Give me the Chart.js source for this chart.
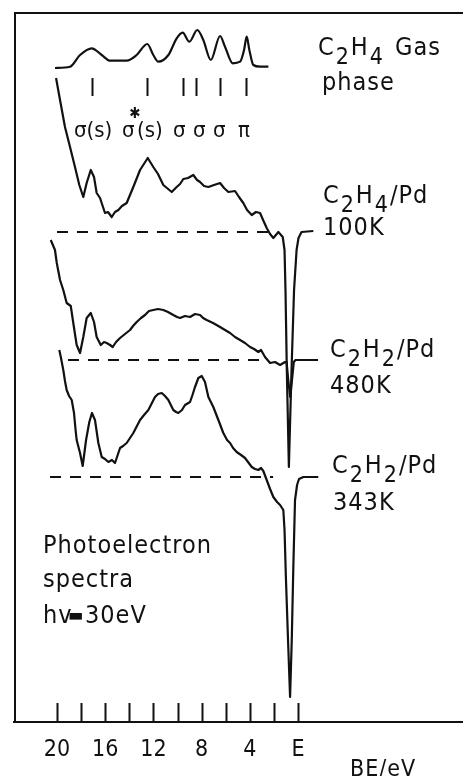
<!DOCTYPE html>
<html>
<head>
<meta charset="utf-8">
<script src="https://cdn.jsdelivr.net/npm/chart.js@4"></script>
<style>
  html, body { margin: 0; padding: 0; background: #fff; }
</style>
</head>
<body>
<canvas id="pes" width="463" height="776"></canvas>
<script>
// binding energy (eV) axis, E = Fermi level
const beTicks = [0, 2, 4, 6, 8, 10, 12, 14, 16, 18, 20];
const beLabels = { 20: '20', 16: '16', 12: '12', 8: '8', 4: '4', 0: 'E' };

// C2H4 gas phase spectrum
const gasBE = [20.17, 18.92, 18.09, 17.12, 16.29, 15.6, 14.22, 13.39, 12.51, 12.01, 11.59, 10.76, 10.07, 9.57,
  9.02, 8.36, 7.86, 7.24, 6.47, 6.06, 5.42, 4.81, 4.48, 4.26, 4.04, 3.71, 3.15, 2.46];
const gasInt = [0.0, 0.13, 1.3, 1.97, 1.3, 0.73, 0.73, 1.3, 2.4, 1.3, 0.63, 1.3, 2.97, 3.53,
  2.63, 3.8, 2.8, 0.8, 3.2, 2.13, 0.47, 0.63, 1.8, 3.13, 1.8, 0.3, 0.13, 0.13];
const gasOrbitals = [17.12, 12.56, 9.57, 8.46, 6.47, 4.34];
const gasOrbitalNames = ['σ(s)', 'σ', 'σ', 'σ', 'σ', 'π'];

// C2H4/Pd 100K
const k100BE = [20.08, 19.75, 19.34, 18.92, 18.51, 18.15, 17.82, 17.54, 17.2, 16.93,
  16.71, 16.43, 16.02, 15.77, 15.46, 15.19, 14.91, 14.61, 14.22, 13.67,
  13.11, 12.47, 12.01, 11.62, 11.18, 10.48, 10.07, 9.79, 9.52, 9.13,
  8.69, 8.38, 8.13, 7.8, 7.44, 6.97, 6.47, 6.14, 5.78, 5.23,
  4.9, 4.54, 4.23, 3.84, 3.49, 3.15, 2.9, 2.6, 2.32, 2.05,
  1.63, 1.27, 1.12, 1.04, 0.93, 0.76, 0.54, 0.33, 0.12, -0.04,
  -0.29, -1.27];
const k100Int = [15.4, 13.2, 10.5, 8.5, 6.5, 4.7, 3.5, 4.9, 6.2, 5.5,
  3.9, 3.4, 1.9, 2.0, 1.5, 2.0, 2.2, 2.6, 2.9, 4.5,
  6.2, 7.4, 6.5, 5.8, 4.7, 4.0, 4.5, 4.8, 5.3, 5.4,
  5.7, 5.2, 5.0, 4.6, 4.5, 4.7, 4.9, 4.4, 4.0, 4.1,
  3.5, 2.9, 2.2, 1.7, 2.0, 1.9, 1.2, 0.4, -0.2, -0.6,
  0.0, -0.5, -1.8, -5.8, -13.8, -23.5, -13.8, -5.8, -1.8, -0.6,
  0.0, 0.1];

// C2H2/Pd 480K
const k480BE = [20.52, 20.17, 20.02, 19.75, 19.48, 19.2, 18.86, 18.65, 18.37, 18.09,
  17.82, 17.54, 17.2, 16.93, 16.71, 16.37, 16.1, 15.88, 15.6, 15.38,
  15.1, 14.77, 14.36, 13.94, 13.69, 13.39, 13.03, 12.7, 12.37, 12.01,
  11.62, 11.18, 10.79, 10.35, 10.04, 9.79, 9.38, 8.96, 8.55, 8.13,
  7.88, 7.58, 7.05, 6.47, 6.06, 5.64, 5.23, 4.81, 4.4, 3.98,
  3.65, 3.29, 3.07, 2.74, 2.32, 1.91, 1.49, 1.08, 0.95, 0.81,
  0.65, 0.5, 0.35, 0.21, -1.66];
const k480Int = [12.0, 11.0, 9.7, 8.0, 7.0, 5.7, 5.4, 3.7, 1.5, 0.7,
  2.3, 4.2, 4.7, 3.8, 2.3, 1.5, 1.8, 1.7, 1.5, 1.3,
  1.8, 2.2, 2.6, 3.0, 3.4, 3.8, 4.2, 4.5, 4.9, 5.0,
  5.1, 5.0, 4.8, 4.5, 4.3, 4.2, 4.4, 4.3, 4.6, 4.5,
  4.2, 4.0, 3.7, 3.3, 3.0, 2.7, 2.3, 2.0, 1.7, 1.3,
  1.1, 0.8, 1.0, 0.3, -0.3, -0.2, -0.5, -0.2, -0.2, -2.0,
  -3.7, -2.0, -0.2, 0.0, 0.0];

// C2H2/Pd 343K
const k343BE = [19.81, 19.67, 19.48, 19.34, 19.2, 19.0, 18.78, 18.59, 18.46, 18.37,
  18.09, 17.87, 17.59, 17.32, 17.1, 16.85, 16.57, 16.29, 16.02, 15.74,
  15.44, 15.19, 14.77, 14.52, 14.22, 13.67, 13.11, 12.78, 12.42, 11.87,
  11.62, 11.31, 11.04, 10.76, 10.35, 10.12, 9.93, 9.63, 9.38, 8.96,
  8.76, 8.55, 8.27, 7.99, 7.72, 7.44, 7.03, 6.61, 6.2, 5.89,
  5.64, 5.39, 5.09, 4.73, 4.4, 4.15, 3.84, 3.57, 3.29, 3.07,
  2.88, 2.6, 2.32, 2.05, 1.74, 1.49, 1.22, 1.12, 1.0, 0.83,
  0.66, 0.52, 0.39, 0.25, 0.08, -0.08, -0.44, -1.68];
const k343Int = [12.7, 11.9, 10.7, 9.6, 8.7, 8.1, 7.7, 6.4, 4.7, 3.7,
  2.4, 1.1, 3.7, 5.5, 6.4, 5.7, 3.4, 2.0, 1.8, 1.5,
  1.7, 1.4, 2.9, 3.1, 3.4, 4.4, 5.7, 6.2, 6.7, 8.0,
  8.3, 8.4, 8.1, 7.7, 6.7, 6.5, 6.4, 6.7, 7.2, 7.5,
  8.2, 9.0, 9.9, 10.1, 9.5, 8.0, 7.0, 5.7, 4.4, 3.7,
  3.4, 2.9, 2.5, 2.2, 1.9, 1.5, 1.0, 0.8, 0.7, 0.9,
  0.6, -0.3, -1.2, -2.0, -2.5, -2.8, -3.3, -5.3, -10.3, -16.3,
  -22.0, -16.3, -9.0, -2.3, -0.8, -0.2, 0.0, 0.0];

// zero-intensity (dashed) baselines: start / end BE
const baseStart = [20.0, 19.09, 20.58];
const baseEnd = [1.74, 2.57, 2.07];

// vertical stacking of the spectra
const gasOffset = 65.4, k100Offset = 49.0, k480Offset = 36.2, k343Offset = 24.5;

const FONT = "'DejaVu Sans Condensed', 'DejaVu Sans', sans-serif";
const INK = '#111';

function series(be, ints, off) {
  return be.map((v, i) => ({ x: v, y: ints[i] + off }));
}
function spectrum(be, ints, off, smooth) {
  return {
    data: series(be, ints, off),
    borderColor: INK, borderWidth: 2.2, pointRadius: 0, showLine: true,
    tension: 0, cubicInterpolationMode: smooth ? 'monotone' : 'default',
    borderJoinStyle: 'round'
  };
}
function baseline(i, off) {
  return {
    data: [{ x: baseStart[i], y: off }, { x: baseEnd[i], y: off }],
    borderColor: INK, borderWidth: 2, borderDash: [11, 9], pointRadius: 0, showLine: true
  };
}

function drawChem(ctx, parts, x, y) {
  parts.forEach(p => {
    const sub = typeof p !== 'string';
    const t = sub ? p[0] : p;
    ctx.font = (sub ? 23 : 25) + 'px ' + FONT;
    ctx.fillText(t, x, y + (sub ? 9 : 0));
    x += ctx.measureText(t).width + 1;
  });
}

const decor = {
  id: 'decor',
  afterDraw(chart) {
    const { ctx, chartArea: a, scales: { x, y } } = chart;
    ctx.save();
    ctx.strokeStyle = INK;
    ctx.fillStyle = INK;
    ctx.lineWidth = 2;
    // frame left + top
    ctx.beginPath();
    ctx.moveTo(a.left + 1, a.bottom);
    ctx.lineTo(a.left + 1, a.top + 1);
    ctx.lineTo(a.right, a.top + 1);
    ctx.stroke();
    // inward ticks on the BE axis
    ctx.beginPath();
    beTicks.forEach(v => {
      const px = Math.round(x.getPixelForValue(v)) + 0.5;
      ctx.moveTo(px, a.bottom);
      ctx.lineTo(px, a.bottom - 19);
    });
    ctx.stroke();
    // gas-phase orbital markers
    ctx.beginPath();
    gasOrbitals.forEach(v => {
      const px = Math.round(x.getPixelForValue(v)) + 0.5;
      ctx.moveTo(px, y.getPixelForValue(gasOffset - 1.0));
      ctx.lineTo(px, y.getPixelForValue(gasOffset - 2.8));
    });
    ctx.stroke();

    ctx.textBaseline = 'alphabetic';
    ctx.textAlign = 'left';
    // orbital names
    ctx.letterSpacing = '0px';
    ctx.font = '22px ' + FONT;
    const lefts = [74, 122, 173, 193, 213, 238];
    gasOrbitalNames.forEach((n, i) => ctx.fillText(n, lefts[i], 137));
    ctx.fillText('(s)', 137, 137);
    ctx.font = 'bold 15px ' + FONT;
    ctx.fillText('✱', 129, 118);

    ctx.letterSpacing = '1px';
    drawChem(ctx, ['C', ['2'], 'H', ['4']], 318, 55);
    ctx.font = '25px ' + FONT;
    ctx.fillText('Gas', 395, 55);
    ctx.fillText('phase', 322, 90);

    drawChem(ctx, ['C', ['2'], 'H', ['4'], '/Pd'], 323, 203);
    ctx.font = '25px ' + FONT;
    ctx.fillText('100K', 323, 235);

    drawChem(ctx, ['C', ['2'], 'H', ['2'], '/Pd'], 330, 357);
    ctx.font = '25px ' + FONT;
    ctx.fillText('480K', 330, 393);

    drawChem(ctx, ['C', ['2'], 'H', ['2'], '/Pd'], 332, 473);
    ctx.font = '25px ' + FONT;
    ctx.fillText('343K', 333, 510);

    ctx.fillText('Photoelectron', 43, 553);
    ctx.fillText('spectra', 43, 587);
    ctx.fillText('hv', 43, 623);
    ctx.fillText('30eV', 85, 623);
    ctx.font = '18px ' + FONT;
    ctx.fillText('▬', 68, 621);

    ctx.font = '23px ' + FONT;
    ctx.fillText('BE/eV', 350, 776);
    ctx.restore();
  }
};

new Chart(document.getElementById('pes'), {
  type: 'scatter',
  data: {
    datasets: [
      spectrum(gasBE, gasInt, gasOffset, true),
      spectrum(k100BE, k100Int, k100Offset, false),
      spectrum(k480BE, k480Int, k480Offset, false),
      spectrum(k343BE, k343Int, k343Offset, false),
      baseline(0, k100Offset),
      baseline(1, k480Offset),
      baseline(2, k343Offset)
    ]
  },
  options: {
    responsive: false,
    animation: false,
    devicePixelRatio: 1,
    layout: { padding: { left: 14, top: 12, right: 0, bottom: 0 } },
    plugins: { legend: { display: false }, tooltip: { enabled: false } },
    scales: {
      x: {
        type: 'linear', reverse: true, min: -13.69, max: 23.57,
        afterFit: s => { s.height = 54; },
        afterBuildTicks: s => { s.ticks = beTicks.map(v => ({ value: v })); },
        grid: { drawOnChartArea: false, drawTicks: false },
        border: { display: true, color: INK, width: 2 },
        ticks: {
          autoSkip: false, maxRotation: 0, padding: 14, color: INK,
          font: { family: FONT, size: 23 },
          callback: v => beLabels[v] !== undefined ? beLabels[v] : ''
        }
      },
      y: { type: 'linear', min: 0, max: 71, display: false }
    }
  },
  plugins: [decor]
});
</script>
</body>
</html>
